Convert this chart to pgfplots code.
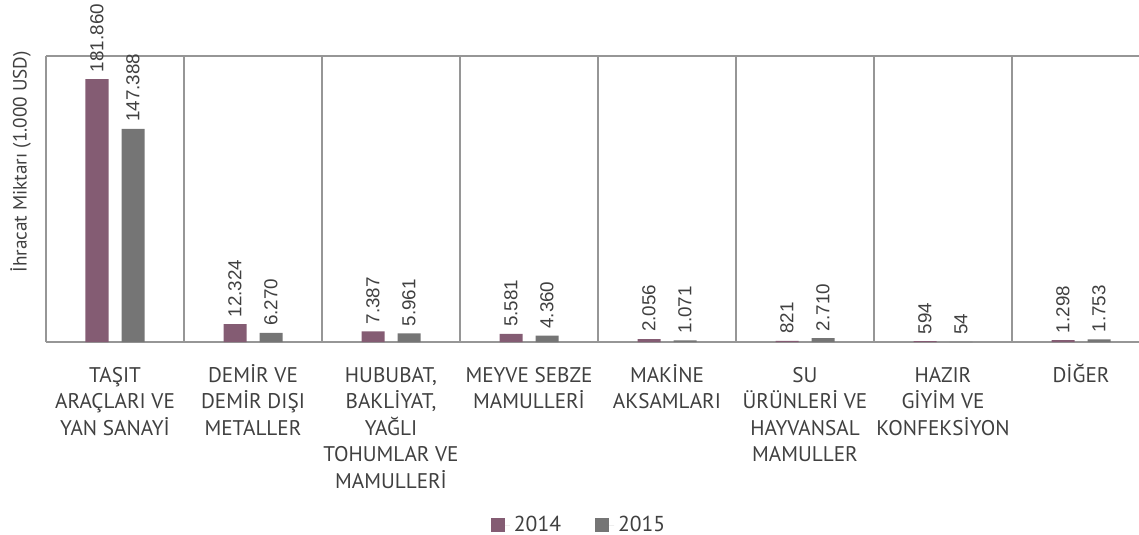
\documentclass[border=0pt]{standalone}
\usepackage{pgfplots}
\pgfplotsset{compat=1.18}
\usepackage{fontspec}
\setmainfont{Liberation Sans}
\newfontfamily\dinfont{PT Sans}
\definecolor{c2014}{RGB}{132,92,115}
\definecolor{c2015}{RGB}{117,117,117}
\definecolor{txt}{RGB}{64,64,64}
\definecolor{gridc}{RGB}{150,150,150}
\newcommand\st{\rule{0pt}{11bp}}
\begin{document}
\begin{tikzpicture}
\begin{axis}[
  scale only axis,
  width=546.5bp, height=143bp,
  xmin=-0.5, xmax=7.4203,
  ymin=0, ymax=197800,
  ybar, bar width=11.5bp,
  axis x line*=box, axis y line*=left,
  axis line style={draw=gridc, line width=0.8bp},
  ytick=\empty,
  xtick={0,1,2,3,4,5,6,7},
  major tick length=0pt,
  minor xtick={0.5,1.5,2.5,3.5,4.5,5.5,6.5},
  minor tick length=0pt,
  xminorgrids=true,
  minor grid style={draw=gridc, line width=0.8bp},
  xticklabels={
    {\st TAŞIT\\ARAÇLARI VE\\YAN SANAYİ},
    {\st DEMİR VE\\DEMİR DIŞI\\METALLER},
    {\st HUBUBAT,\\BAKLİYAT,\\YAĞLI\\TOHUMLAR VE\\MAMULLERİ},
    {\st MEYVE SEBZE\\MAMULLERİ},
    {\st MAKİNE\\AKSAMLARI},
    {\st SU\\ÜRÜNLERİ VE\\HAYVANSAL\\MAMULLER},
    {\st HAZIR\\GİYİM VE\\KONFEKSİYON},
    {\st DİĞER}},
  xticklabel style={align=center, anchor=north, yshift=-5.5bp,
    font=\dinfont\fontsize{10.6bp}{13.3bp}\selectfont, text=txt},
  ylabel={İhracat Miktarı (1.000 USD)},
  ylabel style={font=\dinfont\fontsize{9.6bp}{11bp}\selectfont, text=txt,
    at={(rel axis cs:0,0.63)}, anchor=south, yshift=4bp},
  point meta=explicit symbolic,
  nodes near coords,
  every node near coord/.append style={rotate=90, anchor=west,
    font=\fontsize{9.4bp}{10bp}\selectfont, text=txt},
  clip=false,
  legend style={draw=none, fill=none, at={(rel axis cs:0.4886,-0.64)},
    anchor=center, legend columns=2,
    font=\dinfont\fontsize{10.8bp}{12bp}\selectfont, text=txt,
    /tikz/every even column/.append style={column sep=15bp}},
  legend image code/.code={\fill[#1] (0bp,-3.4bp) rectangle (7bp,3.4bp); \path (0bp,0bp) -- (9.5bp,0bp);},
]
\addplot[fill=c2014, draw=none, bar shift=-9bp] coordinates {
  (0,181860) [181.860]
  (1,12324) [12.324]
  (2,7387) [7.387]
  (3,5581) [5.581]
  (4,2056) [2.056]
  (5,821) [821]
  (6,594) [594]
  (7,1298) [1.298]
};
\addplot[fill=c2015, draw=none, bar shift=9bp] coordinates {
  (0,147388) [147.388]
  (1,6270) [6.270]
  (2,5961) [5.961]
  (3,4360) [4.360]
  (4,1071) [1.071]
  (5,2710) [2.710]
  (6,54) [54]
  (7,1753) [1.753]
};
\legend{2014,2015}
\end{axis}
\pgfresetboundingbox
\useasboundingbox ([xshift=-23bp,yshift=-96.5bp]current axis.south west) rectangle ([yshift=28bp]current axis.north east);
\end{tikzpicture}
\end{document}
